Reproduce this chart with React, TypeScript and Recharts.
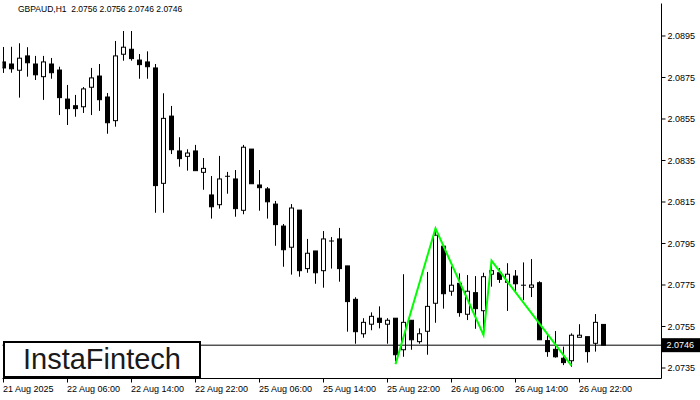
import React from 'react';
import { ComposedChart, Bar, Line, XAxis, YAxis, ReferenceLine } from 'recharts';

// H1 candles
const opens = [
  2.08825, 2.08815, 2.08785, 2.08854, 2.08815, 2.08754, 2.08815, 2.08786, 2.08646, 2.08614,
  2.08609, 2.08703, 2.08757, 2.08656, 2.08542, 2.08862, 2.08886, 2.08834, 2.08825, 2.08796,
  2.0824, 2.08564, 2.08396, 2.0837, 2.08396, 2.08293, 2.08184, 2.08137, 2.08274, 2.08261,
  2.0811, 2.08405, 2.08232, 2.08213, 2.0814, 2.08034, 2.07932, 2.08111, 2.07829, 2.07914,
  2.07819, 2.07962, 2.07972, 2.07842, 2.07681, 2.07515, 2.07561, 2.0759, 2.07561, 2.0759,
  2.07438, 2.0758, 2.07477, 2.07527, 2.07662, 2.07937, 2.0772, 2.07758, 2.07609, 2.07713,
  2.07626, 2.07802, 2.07809, 2.07763, 2.07793, 2.07749, 2.07739, 2.07761, 2.07482, 2.0744,
  2.07397, 2.07385, 2.07498, 2.07501, 2.07469, 2.0756,
];
const highs = [
  2.08897, 2.08898, 2.08915, 2.08896, 2.08854, 2.08854, 2.08844, 2.08802, 2.08714, 2.08666,
  2.08704, 2.08796, 2.08815, 2.08675, 2.08926, 2.08974, 2.08974, 2.08863, 2.08876, 2.08815,
  2.08674, 2.08613, 2.08462, 2.08404, 2.08425, 2.08362, 2.08275, 2.08372, 2.08295, 2.08304,
  2.08425, 2.08405, 2.08304, 2.08222, 2.08155, 2.08044, 2.0814, 2.08111, 2.07972, 2.07914,
  2.0801, 2.07981, 2.08025, 2.07842, 2.07691, 2.0759, 2.07618, 2.07647, 2.0759, 2.0759,
  2.07802, 2.0758, 2.07541, 2.07813, 2.08015, 2.07937, 2.0784, 2.07806, 2.07798, 2.07793,
  2.07809, 2.07862, 2.07832, 2.07855, 2.07822, 2.07859, 2.07875, 2.07768, 2.07509, 2.07528,
  2.07453, 2.07517, 2.07561, 2.07501, 2.0761, 2.0756,
];
const lows = [
  2.08772, 2.08773, 2.08653, 2.08754, 2.08738, 2.08642, 2.08744, 2.08569, 2.08521, 2.08561,
  2.08579, 2.08569, 2.08589, 2.08479, 2.08513, 2.08831, 2.08831, 2.08744, 2.08744, 2.08098,
  2.08098, 2.08381, 2.0832, 2.08301, 2.08301, 2.08209, 2.0807, 2.08118, 2.0819, 2.08079,
  2.08091, 2.08238, 2.08108, 2.0807, 2.07939, 2.07838, 2.078, 2.0779, 2.07809, 2.07756,
  2.07737, 2.07829, 2.07766, 2.07525, 2.07467, 2.07496, 2.07532, 2.07541, 2.07467, 2.07382,
  2.07404, 2.07438, 2.07467, 2.07414, 2.07568, 2.07636, 2.07698, 2.07597, 2.07581, 2.07539,
  2.07533, 2.07742, 2.0776, 2.07625, 2.07718, 2.07678, 2.07692, 2.07486, 2.07404, 2.074,
  2.07364, 2.07356, 2.07498, 2.07376, 2.07429, 2.0746,
];
const closes = [
  2.08796, 2.08792, 2.08843, 2.08821, 2.08763, 2.08825, 2.08773, 2.08653, 2.086, 2.086,
  2.08695, 2.08748, 2.08643, 2.08532, 2.08854, 2.08896, 2.08841, 2.08812, 2.08802, 2.08229,
  2.08553, 2.08402, 2.08359, 2.08386, 2.08301, 2.08312, 2.08127, 2.08261, 2.08274, 2.08118,
  2.08414, 2.08238, 2.08219, 2.08151, 2.08041, 2.0792, 2.08121, 2.07819, 2.07903, 2.07809,
  2.07972, 2.07962, 2.07829, 2.0767, 2.07525, 2.0757, 2.07599, 2.0757, 2.0758, 2.07414,
  2.0757, 2.07486, 2.07515, 2.07647, 2.0799, 2.07708, 2.07749, 2.07617, 2.0772, 2.07636,
  2.0779, 2.07819, 2.07777, 2.07802, 2.07756, 2.07749, 2.0775, 2.07486, 2.07429, 2.07404,
  2.07376, 2.07508, 2.07508, 2.07429, 2.0757, 2.0746,
];

// green pattern outline (bar index -> price)
const patternIdx = [49, 54, 60, 61, 71];
const patternPrice = [2.07368, 2.08023, 2.07509, 2.07867, 2.07361];

const timeTicks = [0, 8, 16, 24, 32, 40, 48, 56, 64, 72];
const timeLabels = [
  '21 Aug 2025', '22 Aug 06:00', '22 Aug 14:00', '22 Aug 22:00', '25 Aug 06:00',
  '25 Aug 14:00', '25 Aug 22:00', '26 Aug 06:00', '26 Aug 14:00', '26 Aug 22:00',
];
const priceTicks = [2.0735, 2.0755, 2.0775, 2.0795, 2.0815, 2.0835, 2.0855, 2.0875, 2.0895];
const priceDomain = [2.072994, 2.091066];
const barDomain = [-0.125, 82.25];
const lastPrice = 2.0746;
const title = 'GBPAUD,H1  2.0756 2.0756 2.0746 2.0746';

const FONT = "'Liberation Sans', Arial, sans-serif";

const data = opens.map((o, i) => {
  const k = patternIdx.indexOf(i);
  return {
    i,
    o,
    h: highs[i],
    l: lows[i],
    c: closes[i],
    range: [lows[i], highs[i]],
    pat: k >= 0 ? patternPrice[k] : null,
  };
});

const Candle = (props: any) => {
  const { x, y, width, height, payload } = props;
  if (x == null || y == null) return null;
  const cx = x + width / 2;
  const top = Math.min(y, y + height);
  const bottom = Math.max(y, y + height);
  const { o, h, l, c } = payload;
  const py = (p: number) => top + ((h - p) / (h - l || 1)) * (bottom - top);
  const bTop = py(Math.max(o, c));
  const bBot = py(Math.min(o, c));
  const up = c > o;
  return (
    <g>
      <line x1={cx} x2={cx} y1={top} y2={bottom} stroke="#000" strokeWidth={1} />
      {bBot - bTop < 1 ? (
        <line x1={cx - 2.5} x2={cx + 2.5} y1={bTop} y2={bTop} stroke="#000" strokeWidth={1} />
      ) : (
        <rect x={cx - 2} y={bTop} width={4} height={bBot - bTop} fill={up ? '#fff' : '#000'} stroke="#000" strokeWidth={1} />
      )}
    </g>
  );
};

const TimeTick = (props: any) => {
  const { x, y, payload } = props;
  const label = timeLabels[timeTicks.indexOf(payload.value)];
  return (
    <text x={x - 0.5} y={y} dy={7} textAnchor="start" fontSize={9} fontFamily={FONT} fill="#000">
      {label}
    </text>
  );
};

const PriceTag = (props: any) => {
  const vb = props.viewBox;
  if (!vb) return null;
  const right = vb.x + vb.width;
  return (
    <g>
      <rect x={right + 0.5} y={vb.y - 7} width={40} height={14} fill="#000" />
      <text x={right + 5} y={vb.y} dy="0.35em" fontSize={9} fontFamily={FONT} fill="#fff">
        {lastPrice.toFixed(4)}
      </text>
    </g>
  );
};

export default function App() {
  return (
    <div style={{ position: 'relative', width: 700, height: 400, background: '#fff', overflow: 'hidden' }}>
      <style>{'body{margin:0}'}</style>
      <ComposedChart width={700} height={400} data={data} margin={{ top: 3.5, right: 0, left: 2.5, bottom: 0 }}>
        <XAxis
          dataKey="i"
          type="number"
          domain={barDomain}
          allowDataOverflow
          ticks={timeTicks}
          interval={0}
          height={21.5}
          tickSize={4}
          tick={<TimeTick />}
          axisLine={{ stroke: '#000' }}
          tickLine={{ stroke: '#000' }}
        />
        <YAxis
          yAxisId="p"
          orientation="right"
          type="number"
          domain={priceDomain}
          allowDataOverflow
          ticks={priceTicks}
          interval={0}
          width={38.5}
          tickSize={4}
          tickMargin={2}
          tickFormatter={(v: number) => v.toFixed(4)}
          tick={{ fontSize: 9, fill: '#000', fontFamily: FONT, textAnchor: 'start' }}
          axisLine={{ stroke: '#000' }}
          tickLine={{ stroke: '#000' }}
        />
        <YAxis
          yAxisId="left"
          orientation="left"
          type="number"
          domain={priceDomain}
          allowDataOverflow
          width={0}
          tick={false}
          tickLine={false}
          axisLine={{ stroke: '#000' }}
        />
        <Bar yAxisId="p" dataKey="range" barSize={6} shape={(p: any) => <Candle {...p} />} isAnimationActive={false} />
        <ReferenceLine yAxisId="p" y={lastPrice} stroke="#000" strokeWidth={1} label={<PriceTag />} />
        <Line
          yAxisId="p"
          dataKey="pat"
          type="linear"
          stroke="#00ff00"
          strokeWidth={2}
          dot={false}
          activeDot={false}
          connectNulls
          isAnimationActive={false}
        />
      </ComposedChart>
      <div
        style={{
          position: 'absolute',
          left: 18,
          top: 4,
          fontSize: 8.5,
          fontFamily: FONT,
          color: '#000',
          whiteSpace: 'pre',
          lineHeight: '11px',
        }}
      >
        {title}
      </div>
      <div
        style={{
          position: 'absolute',
          left: 3,
          top: 341,
          width: 198,
          height: 37,
          boxSizing: 'border-box',
          border: '2px solid #000',
          background: '#fff',
          display: 'flex',
          alignItems: 'center',
          justifyContent: 'center',
          fontFamily: FONT,
          fontSize: 29,
          color: '#1a1a1a',
        }}
      >
        InstaFintech
      </div>
    </div>
  );
}
